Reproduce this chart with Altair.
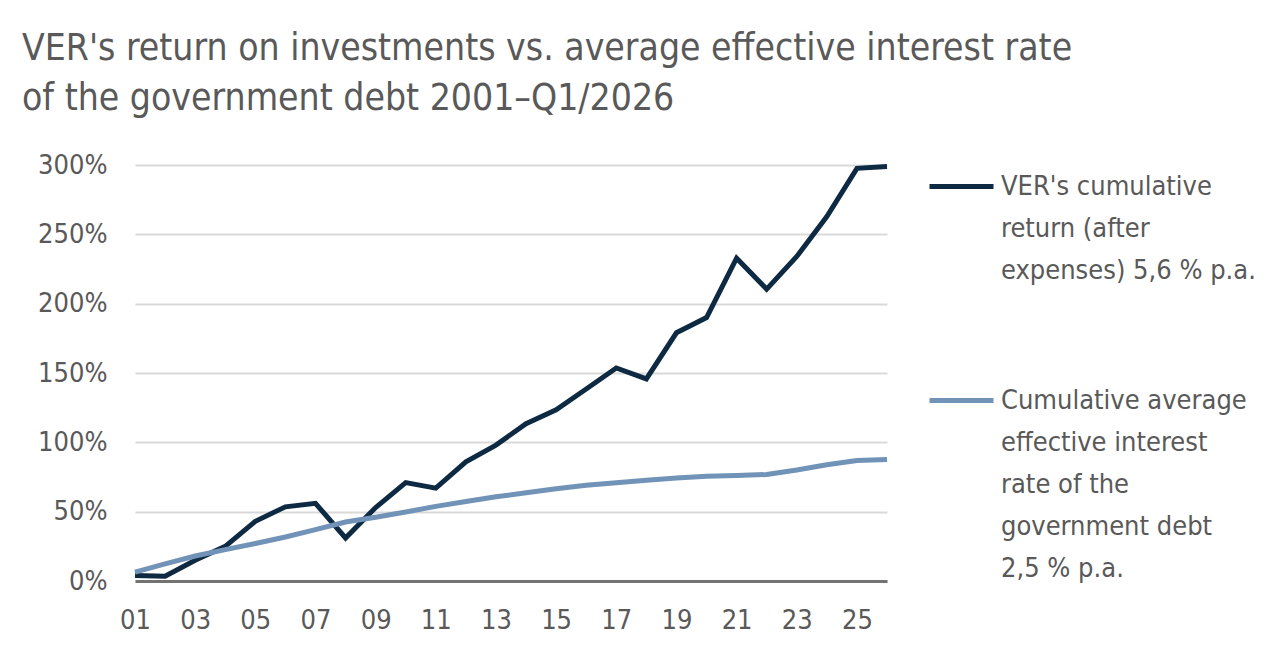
import altair as alt
import pandas as pd

years = ["01", "02", "03", "04", "05", "06", "07", "08", "09", "10", "11", "12", "13",
         "14", "15", "16", "17", "18", "19", "20", "21", "22", "23", "24", "25", "26"]
ver_return = [4, 3.5, 15, 25, 43, 53.5, 56, 31, 53, 71, 67, 86, 98,
              113.5, 123.5, 138.5, 153.6, 145.7, 179, 190, 232.8, 210.5, 234, 262.8, 297.6, 299]
debt_rate = [6.4, 12.3, 18, 22.6, 27, 31.7, 37, 42.5, 46, 49.7, 53.8, 57.3, 60.7,
             63.6, 66.5, 69, 70.8, 72.7, 74.2, 75.6, 76, 76.8, 80, 83.8, 86.9, 87.6]
x_ticks = ["01", "03", "05", "07", "09", "11", "13", "15", "17", "19", "21", "23", "25"]
y_ticks = [0, 50, 100, 150, 200, 250, 300]
series_names = [
    "VER's cumulative\nreturn (after\nexpenses) 5,6 % p.a.",
    "Cumulative average\neffective interest\nrate of the\ngovernment debt\n2,5 % p.a.",
]
series_colors = ["#0d2a42", "#7193b8"]
title_lines = ["VER's return on investments vs. average effective interest rate",
               "of the government debt 2001\u2013Q1/2026"]

rows = []
for i, y in enumerate(years):
    rows.append({"year": y, "series": series_names[0], "value": ver_return[i]})
    rows.append({"year": y, "series": series_names[1], "value": debt_rate[i]})
df = pd.DataFrame(rows)

FONT = "DejaVu Sans Condensed"
GRAY = "#595959"

chart = alt.Chart(df).mark_line(strokeWidth=5, strokeJoin="miter").encode(
    x=alt.X("year:O", scale=alt.Scale(type="point", padding=0),
            axis=alt.Axis(values=x_ticks, title=None, labelAngle=0, ticks=False,
                          domain=True, domainColor="#737373", domainWidth=3,
                          grid=False, labelFontSize=27, labelFont=FONT,
                          labelColor=GRAY, labelPadding=26)),
    y=alt.Y("value:Q", scale=alt.Scale(domain=[0, 300], nice=False),
            axis=alt.Axis(values=y_ticks, title=None, ticks=False, domain=False,
                          grid=True, gridColor="#d9d9d9", gridWidth=2,
                          labelFontSize=27, labelFont=FONT, labelColor=GRAY,
                          labelPadding=28, labelExpr="datum.value + '%'")),
    color=alt.Color("series:N", sort=series_names,
                    scale=alt.Scale(domain=series_names, range=series_colors),
                    legend=alt.Legend(orient="none", legendX=792, legendY=-13, title=None,
                                      symbolType="stroke", symbolSize=4096,
                                      symbolStrokeWidth=5, labelFontSize=27,
                                      labelFont=FONT, labelColor=GRAY, labelLimit=400,
                                      labelOffset=5, rowPadding=82,
                                      labelExpr="split(datum.label, '\\n')")),
).properties(
    width=752,
    height=416,
    title=alt.TitleParams(text=title_lines, anchor="start", frame="group", dx=-113,
                          offset=33, fontSize=37, font=FONT, color=GRAY,
                          fontWeight="normal", lineHeight=50),
    autosize=alt.AutoSizeParams(type="none"),
    padding={"left": 127, "top": 157, "right": 393, "bottom": 80},
).configure(
    view=alt.ViewConfig(strokeWidth=0),
    style={"guide-label": {"lineHeight": 42}},
)

chart.save("out.html", embed_options={"renderer": "svg", "actions": False})
